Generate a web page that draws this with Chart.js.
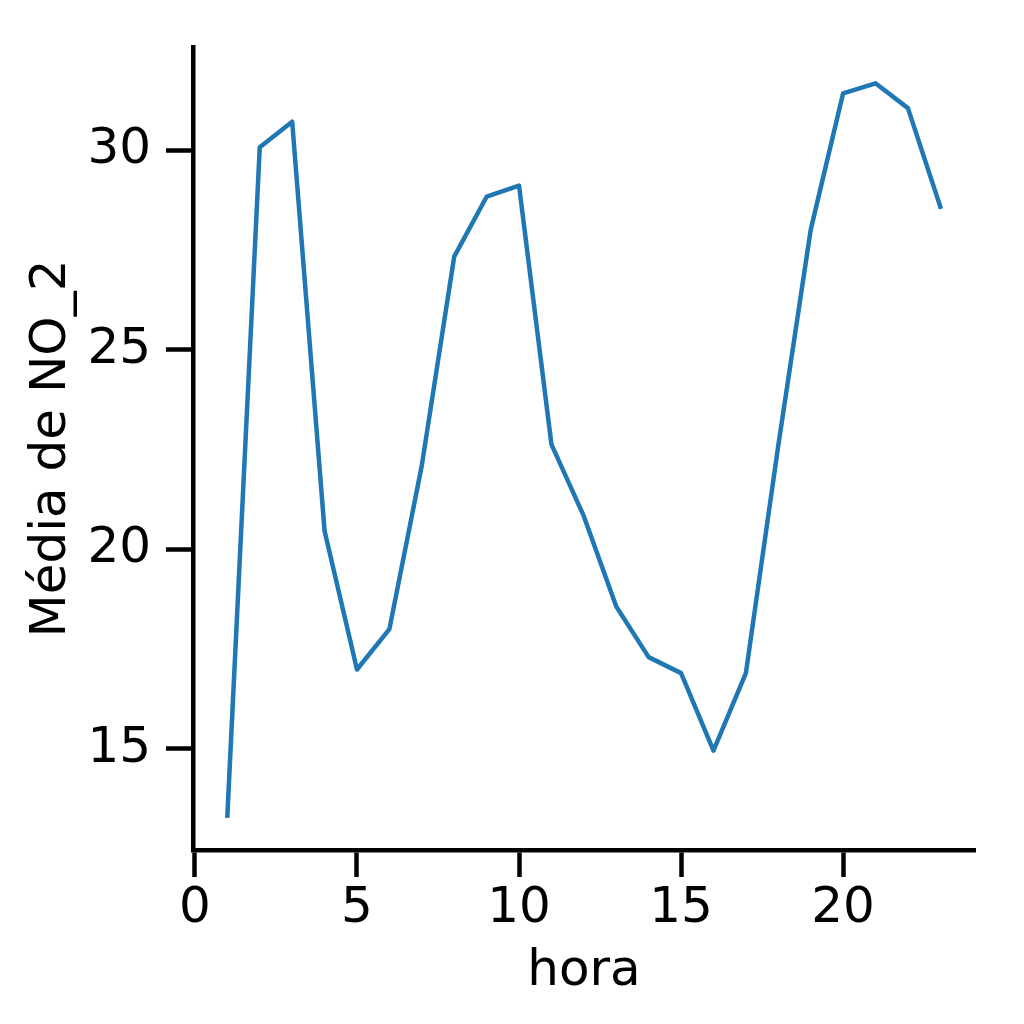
<!DOCTYPE html>
<html>
<head>
<meta charset="utf-8">
<script src="https://cdn.jsdelivr.net/npm/chart.js@4.4.0/dist/chart.umd.min.js"></script>
<style>
  html, body { margin: 0; padding: 0; background: #fff; }
  #wrap { width: 1024px; height: 1024px; }
</style>
</head>
<body>
<div id="wrap"><canvas id="chart" width="1024" height="1024"></canvas></div>
<script>
// horas do dia e média de NO_2
const hours = [1, 2, 3, 4, 5, 6, 7, 8, 9, 10, 11, 12, 13, 14, 15, 16, 17, 18, 19, 20, 21, 22, 23];
const no2Mean = [13.33, 30.07, 30.71, 20.46, 16.99, 18.0, 22.1, 27.33, 28.83, 29.11, 22.63, 20.83,
                 18.57, 17.3, 16.9, 14.96, 16.9, 22.6, 28.0, 31.42, 31.67, 31.05, 28.58];
const xTicks = [0, 5, 10, 15, 20];
const yTicks = [15, 20, 25, 30];
const xLabel = "hora";
const yLabel = "Média de NO_2";

Chart.defaults.font.family = "'DejaVu Sans', sans-serif";
Chart.defaults.font.size = 50;
Chart.defaults.color = "#000";

const points = hours.map((h, i) => ({x: h, y: no2Mean[i]}));

const axisGrid = {
  drawOnChartArea: false,
  drawTicks: true,
  tickLength: 27,
  tickWidth: 4.5,
  tickColor: "#000"
};

new Chart(document.getElementById("chart"), {
  type: "line",
  data: {
    datasets: [{
      data: points,
      borderColor: "#1f77b4",
      borderWidth: 4.5,
      borderJoinStyle: "round",
      borderCapStyle: "square",
      pointRadius: 0,
      tension: 0,
      fill: false
    }]
  },
  options: {
    responsive: false,
    animation: false,
    devicePixelRatio: 1,
    layout: {padding: {top: 47, right: 49, left: 0, bottom: 0}},
    plugins: {legend: {display: false}, tooltip: {enabled: false}},
    scales: {
      x: {
        type: "linear",
        min: -0.06,
        max: 24.07,
        border: {display: true, width: 4.5, color: "#000"},
        grid: axisGrid,
        ticks: {padding: 2, font: {size: 50}},
        afterBuildTicks: (scale) => { scale.ticks = xTicks.map((v) => ({value: v})); },
        afterFit: (scale) => { scale.height = 174; },
        title: {display: true, text: xLabel, font: {size: 50}, padding: {top: 0, bottom: 22}}
      },
      y: {
        type: "linear",
        min: 12.47,
        max: 32.58,
        border: {display: true, width: 4.5, color: "#000"},
        grid: axisGrid,
        ticks: {padding: 15, font: {size: 50}},
        afterBuildTicks: (scale) => { scale.ticks = yTicks.map((v) => ({value: v})); },
        afterFit: (scale) => { scale.width = 193; },
        title: {display: true, text: yLabel, font: {size: 50}, padding: {top: 22, bottom: 0}}
      }
    }
  }
});
</script>
</body>
</html>
